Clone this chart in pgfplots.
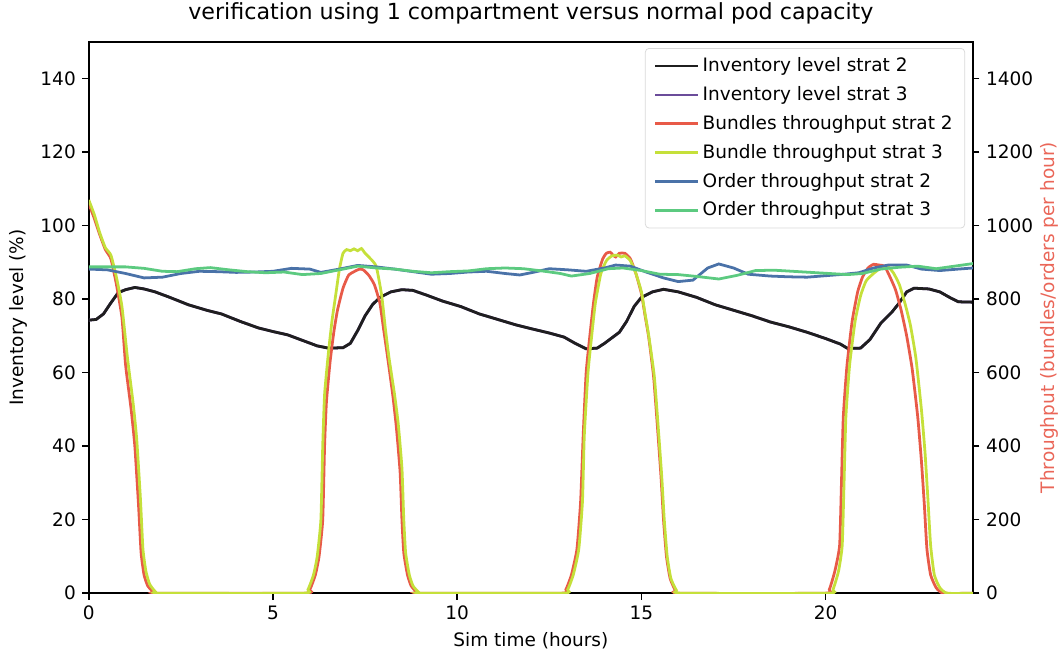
\documentclass[border=0pt]{standalone}
\usepackage{fontspec}
\setmainfont{DejaVu Sans}
\usepackage{pgfplots}
\pgfplotsset{compat=1.18}
\definecolor{cblack}{HTML}{1F1F1F}
\definecolor{cpurple}{HTML}{6B4C9A}
\definecolor{cred}{HTML}{E85A48}
\definecolor{cyel}{HTML}{C5E03A}
\definecolor{cblue}{HTML}{4A72A8}
\definecolor{cgreen}{HTML}{5CCA80}
\definecolor{clabel}{HTML}{EA6658}
\begin{document}
\begin{tikzpicture}
\pgfplotsset{
  every axis/.append style={
    scale only axis, width=478pt, height=298pt,
    xmin=0, xmax=24,
    tick align=outside, major tick length=3.5pt,
    font=\fontsize{10}{12}\selectfont,
    /pgf/number format/assume math mode=true,
    /pgf/number format/1000 sep={},
    axis line style={line width=0.8pt},
    every tick/.style={black, line width=0.8pt},
  },
}
\begin{axis}[
  name=ax1,
  ymin=0, ymax=150,
  ytick={0,20,...,140},
  xtick={0,5,10,15,20},
  xtick pos=left, ytick pos=left,
  xlabel={Sim time (hours)},
  ylabel={Inventory level (\%)},
  title={verification using 1 compartment versus normal pod capacity},
  title style={font=\fontsize{12}{14}\selectfont},
]
\addplot[cpurple, line width=1.5pt] coordinates {
(0,74.3)(0.2,74.5)(0.4,76)(0.6,79)(0.8,81.8)(1.0,82.6)(1.25,83.2)(1.5,82.8)(1.8,82)(2.2,80.5)(2.7,78.5)(3.2,77)(3.6,76)(4.1,74)(4.6,72.2)(5.0,71.2)(5.4,70.3)(5.8,68.8)(6.2,67.3)(6.5,66.7)(6.9,66.8)(7.1,68)(7.3,71.5)(7.5,75.5)(7.7,78.5)(7.9,80.5)(8.2,82)(8.5,82.6)(8.8,82.4)(9.2,81)(9.6,79.5)(10.1,78)(10.6,76)(11.1,74.5)(11.6,73)(12.0,72)(12.5,70.8)(12.9,69.7)(13.2,68)(13.5,66.5)(13.8,66.7)(14.0,68)(14.2,69.5)(14.4,71)(14.6,74)(14.8,78)(15.0,80.5)(15.3,82)(15.6,82.7)(16.0,82)(16.5,80.5)(17.0,78.5)(17.5,77)(18.0,75.5)(18.5,73.8)(19.0,72.5)(19.5,71)(20.0,69.3)(20.4,67.8)(20.6,66.6)(20.95,66.7)(21.2,69)(21.5,73.5)(21.8,76.5)(22.0,79)(22.2,82)(22.4,83)(22.8,82.8)(23.1,82)(23.4,80.3)(23.6,79.3)(24,79.2)
};
\addplot[cblack, line width=1.5pt] coordinates {
(0,74.3)(0.2,74.5)(0.4,76)(0.6,79)(0.8,81.8)(1.0,82.6)(1.25,83.2)(1.5,82.8)(1.8,82)(2.2,80.5)(2.7,78.5)(3.2,77)(3.6,76)(4.1,74)(4.6,72.2)(5.0,71.2)(5.4,70.3)(5.8,68.8)(6.2,67.3)(6.5,66.7)(6.9,66.8)(7.1,68)(7.3,71.5)(7.5,75.5)(7.7,78.5)(7.9,80.5)(8.2,82)(8.5,82.6)(8.8,82.4)(9.2,81)(9.6,79.5)(10.1,78)(10.6,76)(11.1,74.5)(11.6,73)(12.0,72)(12.5,70.8)(12.9,69.7)(13.2,68)(13.5,66.5)(13.8,66.7)(14.0,68)(14.2,69.5)(14.4,71)(14.6,74)(14.8,78)(15.0,80.5)(15.3,82)(15.6,82.7)(16.0,82)(16.5,80.5)(17.0,78.5)(17.5,77)(18.0,75.5)(18.5,73.8)(19.0,72.5)(19.5,71)(20.0,69.3)(20.4,67.8)(20.6,66.6)(20.95,66.7)(21.2,69)(21.5,73.5)(21.8,76.5)(22.0,79)(22.2,82)(22.4,83)(22.8,82.8)(23.1,82)(23.4,80.3)(23.6,79.3)(24,79.2)
};
\end{axis}
\begin{axis}[
  ymin=0, ymax=1500,
  ytick={0,200,...,1400},
  axis x line=none,
  axis y line*=right,
  ylabel={Throughput (bundles/orders per hour)},
  ylabel style={color=clabel},
  ylabel shift=-3pt,
  legend style={at={(0.991,0.989)}, anchor=north east, draw=black!15, rounded corners=2pt,
    font=\fontsize{10}{12}\selectfont, cells={anchor=west}, row sep=2.5pt,
    inner xsep=4.5pt, inner ysep=3pt},
  legend image code/.code={\draw[#1] (0pt,0pt) -- (23pt,0pt);},
]
\addlegendimage{cblack, line width=1.5pt}
\addlegendentry{Inventory level strat 2}
\addlegendimage{cpurple, line width=1.5pt}
\addlegendentry{Inventory level strat 3}
\addplot[cred, line width=1.5pt, smooth, tension=0.3] coordinates {
(0,1060)(0.15,1020)(0.3,975)(0.45,935)(0.6,910)(0.75,840)(0.9,750)(1.0,620)(1.15,500)(1.25,400)(1.35,240)(1.42,110)(1.5,50)(1.6,20)(1.75,4)(1.9,0)
(5.85,0)(6.0,10)(6.15,50)(6.25,100)(6.35,200)(6.4,400)(6.45,520)(6.55,630)(6.65,710)(6.75,770)(6.9,830)(7.05,865)(7.2,875)(7.35,882)(7.45,880)(7.6,865)(7.75,840)(7.9,790)(8.0,720)(8.1,650)(8.25,540)(8.35,450)(8.45,330)(8.5,200)(8.55,110)(8.65,50)(8.75,20)(8.9,3)(9.0,0)
(12.8,0)(12.95,10)(13.1,50)(13.25,120)(13.35,250)(13.42,430)(13.5,600)(13.6,700)(13.7,790)(13.8,860)(13.95,910)(14.05,925)(14.15,928)(14.25,918)(14.3,915)(14.4,925)(14.55,925)(14.7,910)(14.85,870)(15.0,815)(15.1,755)(15.2,695)(15.33,590)(15.43,460)(15.53,320)(15.6,200)(15.68,100)(15.78,40)(15.92,8)(16.05,0)
(19.95,0)(20.1,10)(20.25,60)(20.38,130)(20.43,300)(20.48,480)(20.58,620)(20.72,740)(20.87,820)(21.0,860)(21.15,885)(21.3,895)(21.45,893)(21.6,890)(21.75,860)(21.9,825)(22.05,770)(22.2,700)(22.35,610)(22.5,480)(22.6,360)(22.68,240)(22.75,120)(22.85,50)(23.0,15)(23.2,0)(24,0)
};
\addlegendentry{Bundles throughput strat 2}
\addplot[cyel, line width=1.5pt, smooth, tension=0.3] coordinates {
(0,1070)(0.15,1030)(0.3,980)(0.45,940)(0.6,920)(0.75,860)(0.9,780)(1.05,640)(1.2,520)(1.3,420)(1.4,260)(1.47,120)(1.55,60)(1.65,25)(1.8,5)(1.95,0)
(5.8,0)(5.95,10)(6.1,50)(6.2,100)(6.3,200)(6.35,400)(6.4,540)(6.5,650)(6.6,740)(6.7,810)(6.8,880)(6.9,925)(7.0,935)(7.1,932)(7.2,937)(7.3,932)(7.4,938)(7.5,925)(7.6,915)(7.8,890)(7.95,810)(8.05,720)(8.15,640)(8.3,540)(8.4,460)(8.5,340)(8.55,200)(8.6,110)(8.7,50)(8.8,20)(8.95,3)(9.05,0)
(12.85,0)(13.0,10)(13.15,50)(13.3,120)(13.4,250)(13.45,430)(13.55,600)(13.65,700)(13.75,790)(13.9,870)(14.05,905)(14.2,918)(14.35,920)(14.45,915)(14.55,918)(14.7,905)(14.85,870)(15.0,820)(15.1,760)(15.2,700)(15.35,590)(15.45,460)(15.55,320)(15.62,200)(15.7,100)(15.8,40)(15.95,8)(16.1,0)
(20.05,0)(20.2,10)(20.35,60)(20.45,130)(20.5,300)(20.55,480)(20.65,620)(20.8,740)(20.95,810)(21.1,850)(21.3,870)(21.5,885)(21.7,888)(21.85,870)(22.0,840)(22.15,790)(22.3,730)(22.45,640)(22.6,500)(22.7,380)(22.78,250)(22.85,130)(22.95,50)(23.1,15)(23.3,0)(24,0)
};
\addlegendentry{Bundle throughput strat 3}
\addplot[cblue, line width=1.5pt] coordinates {
(0,882)(0.5,880)(1.0,870)(1.5,858)(2.0,860)(2.5,870)(3.0,876)(3.5,875)(4.0,873)(4.5,874)(5.0,876)(5.5,884)(6.0,882)(6.3,873)(6.8,882)(7.3,892)(7.8,888)(8.3,882)(8.8,875)(9.3,868)(9.8,870)(10.3,874)(10.8,876)(11.3,870)(11.7,866)(12.1,874)(12.5,883)(13.0,880)(13.5,876)(14.0,885)(14.3,893)(14.7,890)(15.1,875)(15.6,858)(16.0,848)(16.4,852)(16.8,885)(17.1,896)(17.5,885)(17.9,868)(18.5,863)(19.0,861)(19.5,860)(20.0,864)(20.5,868)(20.9,872)(21.3,885)(21.7,893)(22.2,893)(22.6,882)(23.1,878)(23.6,882)(24,885)
};
\addlegendentry{Order throughput strat 2}
\addplot[cgreen, line width=1.5pt] coordinates {
(0,888)(0.5,888)(1.0,888)(1.5,884)(2.0,876)(2.4,875)(2.9,883)(3.3,886)(3.8,880)(4.3,875)(4.8,872)(5.3,874)(5.8,867)(6.3,870)(6.8,880)(7.3,890)(7.8,885)(8.3,882)(8.8,876)(9.3,872)(9.8,875)(10.3,877)(10.8,883)(11.3,885)(11.8,883)(12.3,877)(12.8,870)(13.1,863)(13.6,870)(14.1,883)(14.5,885)(15.0,878)(15.5,868)(16.0,867)(16.5,862)(17.1,855)(17.6,865)(18.1,878)(18.6,879)(19.1,876)(19.6,873)(20.1,870)(20.6,867)(21.0,870)(21.5,882)(22.0,887)(22.5,890)(23.0,883)(23.5,890)(24,897)
};
\addlegendentry{Order throughput strat 3}
\end{axis}
\pgfresetboundingbox
\path[use as bounding box] ([xshift=-48pt,yshift=-31.4pt]ax1.south west) rectangle ([xshift=46.5pt,yshift=22.7pt]ax1.north east);
\end{tikzpicture}
\end{document}
